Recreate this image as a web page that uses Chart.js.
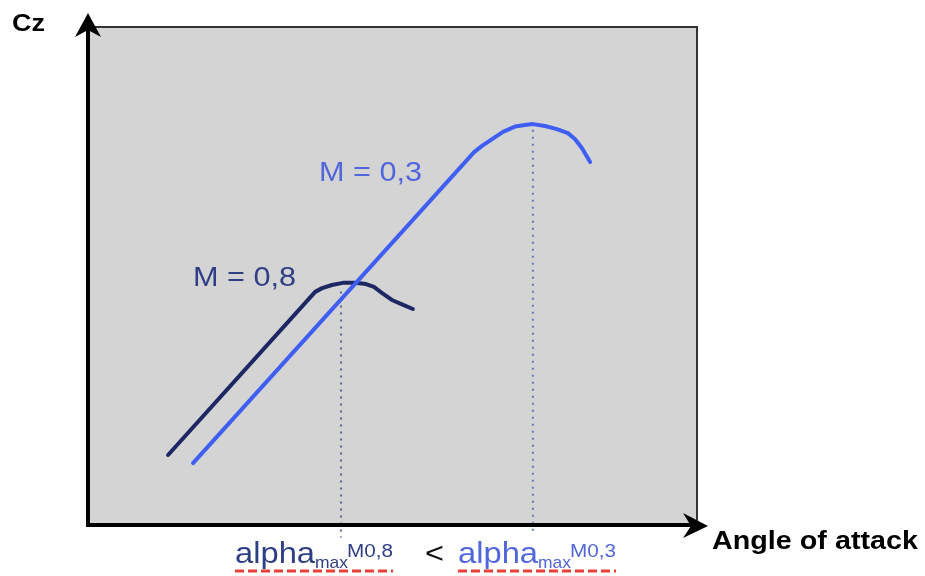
<!DOCTYPE html>
<html>
<head>
<meta charset="utf-8">
<script src="https://cdn.jsdelivr.net/npm/chart.js@4/dist/chart.umd.min.js"></script>
<style>
  html, body { margin: 0; padding: 0; background: #ffffff; }
  #wrap { width: 925px; height: 576px; position: relative; }
</style>
</head>
<body>
<div id="wrap"><canvas id="c" width="925" height="576"></canvas></div>
<script>
// Lift coefficient Cz versus angle of attack (degrees) for two Mach numbers
const alphaM08 = [2.63, 7.46, 7.69, 8.01, 8.37, 8.77, 9.13, 9.39, 9.66, 9.98, 10.35, 10.67];
const czM08    = [0.225, 0.749, 0.761, 0.771, 0.778, 0.778, 0.774, 0.765, 0.745, 0.723, 0.707, 0.694];

const alphaM03 = [3.45, 12.68, 12.94, 13.27, 13.63, 14.02, 14.35, 14.61, 15.01, 15.40, 15.76, 15.99, 16.22, 16.49];
const czM03    = [0.199, 1.198, 1.218, 1.240, 1.263, 1.280, 1.285, 1.288, 1.282, 1.272, 1.259, 1.240, 1.211, 1.166];

// Angle of maximum lift for each Mach number (dotted markers)
const alphaMaxM08 = 8.31;
const alphaMaxM03 = 14.61;
const czMarkTopM08 = 0.75;
const czMarkTopM03 = 1.27;
const czMarkBottomM08 = -0.04;
const czMarkBottomM03 = -0.02;

const seriesLabels = ['M = 0,8', 'M = 0,3'];
const axisLabels = { y: 'Cz', x: 'Angle of attack' };

const NAVY = '#1c2763';
const BLUE = '#3f5ef3';
const NAVY_TEXT = '#2f3f86';
const BLUE_TEXT = '#5066dd';
const FONT = '"Liberation Sans", Arial, sans-serif';

const toPoints = (xs, ys) => xs.map((x, i) => ({ x: x, y: ys[i] }));

// draw text squeezed or widened horizontally to a given width
function fitText(ctx, text, x, y, width) {
  const w = ctx.measureText(text).width;
  ctx.save();
  ctx.translate(x, y);
  ctx.scale(width / w, 1);
  ctx.fillText(text, 0, 0);
  ctx.restore();
}

const decorations = {
  id: 'decorations',
  beforeDatasetsDraw(chart) {
    const { ctx, chartArea: a } = chart;
    ctx.save();
    ctx.fillStyle = '#d4d4d4';
    ctx.fillRect(a.left, a.top, a.right - a.left, a.bottom - a.top);
    // thin frame on the top and right
    ctx.strokeStyle = '#333333';
    ctx.lineWidth = 2;
    ctx.beginPath();
    ctx.moveTo(a.left, a.top);
    ctx.lineTo(a.right, a.top);
    ctx.lineTo(a.right, a.bottom);
    ctx.stroke();
    ctx.restore();
  },
  afterDatasetsDraw(chart) {
    const { ctx, chartArea: a } = chart;
    ctx.save();
    // axes with arrow heads
    ctx.strokeStyle = '#000000';
    ctx.fillStyle = '#000000';
    ctx.lineWidth = 4;
    ctx.lineCap = 'butt';
    ctx.beginPath();
    ctx.moveTo(a.left, a.bottom + 2);
    ctx.lineTo(a.left, a.top - 6);
    ctx.stroke();
    ctx.beginPath();
    ctx.moveTo(a.left - 2, a.bottom);
    ctx.lineTo(a.right + 2, a.bottom);
    ctx.stroke();
    // y arrow head
    ctx.beginPath();
    ctx.moveTo(a.left, a.top - 14);
    ctx.lineTo(a.left - 13, a.top + 10);
    ctx.lineTo(a.left, a.top + 3);
    ctx.lineTo(a.left + 13, a.top + 10);
    ctx.closePath();
    ctx.fill();
    // x arrow head
    ctx.beginPath();
    ctx.moveTo(a.right + 11, a.bottom + 1);
    ctx.lineTo(a.right - 14, a.bottom - 12);
    ctx.lineTo(a.right - 6, a.bottom + 1);
    ctx.lineTo(a.right - 14, a.bottom + 13);
    ctx.closePath();
    ctx.fill();

    // axis titles
    ctx.textBaseline = 'alphabetic';
    ctx.textAlign = 'left';
    ctx.font = 'bold 24px ' + FONT;
    fitText(ctx, axisLabels.y, 12, 31, 33);
    ctx.font = 'bold 25px ' + FONT;
    fitText(ctx, axisLabels.x, 712, 549, 206);

    // series labels
    ctx.font = '27px ' + FONT;
    ctx.fillStyle = BLUE_TEXT;
    fitText(ctx, seriesLabels[1], 319, 181, 103);
    ctx.fillStyle = NAVY_TEXT;
    fitText(ctx, seriesLabels[0], 193, 286, 103);

    // alpha_max labels under the x axis
    const drawAlpha = (x, sup, color) => {
      ctx.fillStyle = color;
      ctx.font = '29px ' + FONT;
      fitText(ctx, 'alpha', x, 563, 80);
      ctx.font = '17px ' + FONT;
      fitText(ctx, 'max', x + 80, 568, 33);
      ctx.font = '18px ' + FONT;
      fitText(ctx, sup, x + 112, 557, 46);
      // red dashed underline
      ctx.strokeStyle = '#e8403a';
      ctx.lineWidth = 3;
      ctx.setLineDash([9, 4]);
      ctx.beginPath();
      ctx.moveTo(x, 571);
      ctx.lineTo(x + 158, 571);
      ctx.stroke();
      ctx.setLineDash([]);
    };
    drawAlpha(235, 'M0,8', NAVY_TEXT);
    drawAlpha(458, 'M0,3', BLUE_TEXT);
    ctx.fillStyle = '#111111';
    ctx.font = '29px ' + FONT;
    fitText(ctx, '<', 425, 563, 19);
    ctx.restore();
  }
};

new Chart(document.getElementById('c'), {
  type: 'scatter',
  data: {
    datasets: [
      {
        label: 'alpha max M0,8',
        data: [{ x: alphaMaxM08, y: czMarkTopM08 }, { x: alphaMaxM08, y: czMarkBottomM08 }],
        showLine: true, borderColor: '#5a6690', borderWidth: 2, borderDash: [2, 5],
        pointRadius: 0, clip: false, order: 3
      },
      {
        label: 'alpha max M0,3',
        data: [{ x: alphaMaxM03, y: czMarkTopM03 }, { x: alphaMaxM03, y: czMarkBottomM03 }],
        showLine: true, borderColor: '#6a78b8', borderWidth: 2, borderDash: [2, 5],
        pointRadius: 0, clip: false, order: 3
      },
      {
        label: seriesLabels[0],
        data: toPoints(alphaM08, czM08),
        showLine: true, borderColor: NAVY, borderWidth: 4, tension: 0,
        borderJoinStyle: 'round', borderCapStyle: 'round', pointRadius: 0, order: 2
      },
      {
        label: seriesLabels[1],
        data: toPoints(alphaM03, czM03),
        showLine: true, borderColor: BLUE, borderWidth: 4, tension: 0,
        borderJoinStyle: 'round', borderCapStyle: 'round', pointRadius: 0, order: 1
      }
    ]
  },
  options: {
    responsive: false,
    animation: false,
    layout: { padding: { left: 88, right: 228, top: 27, bottom: 51 } },
    plugins: { legend: { display: false }, tooltip: { enabled: false } },
    scales: {
      x: { type: 'linear', min: 0, max: 20, display: false },
      y: { type: 'linear', min: 0, max: 1.6, display: false }
    }
  },
  plugins: [decorations]
});
</script>
</body>
</html>
